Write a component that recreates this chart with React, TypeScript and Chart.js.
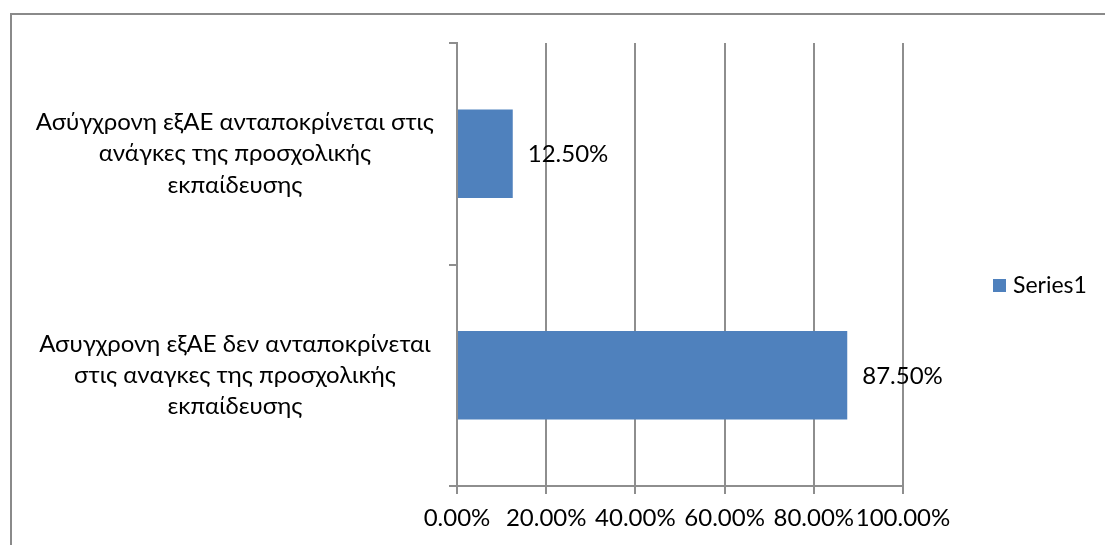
import React, { useEffect, useRef } from "react";
import { Chart, registerables } from "chart.js";

Chart.register(...registerables);

const categories: string[][] = [
  ["Ασύγχρονη εξΑΕ ανταποκρίνεται στις", "ανάγκες της προσχολικής", "εκπαίδευσης"],
  ["Ασυγχρονη εξΑΕ δεν ανταποκρίνεται", "στις αναγκες της προσχολικής", "εκπαίδευσης"],
];
const seriesName = "Series1";
const seriesValues: number[] = [0.125, 0.875];
const xTicks = { min: 0, max: 1, step: 0.2 };

const FONT = "Lato, 'Open Sans', sans-serif";
const FS = 24;
const BAR_COLOR = "#4f81bd";
const LINE_COLOR = "#8e8e8e";

const fmt = (v: number) => (v * 100).toFixed(2) + "%";

const framePlugin = {
  id: "frame",
  beforeDraw(chart: any) {
    const ctx = chart.ctx;
    ctx.save();
    ctx.fillStyle = "#ffffff";
    ctx.fillRect(0, 0, chart.width, chart.height);
    ctx.strokeStyle = "#8a8a8a";
    ctx.lineWidth = 2;
    ctx.strokeRect(11, 14, chart.width + 20, chart.height + 20);
    ctx.restore();
  },
};

const labelsPlugin = {
  id: "barLabels",
  afterDatasetsDraw(chart: any) {
    const ctx = chart.ctx;
    ctx.save();
    ctx.font = `${FS}px ${FONT}`;
    ctx.fillStyle = "#000";
    ctx.textAlign = "left";
    ctx.textBaseline = "middle";
    chart.data.datasets.forEach((ds: any, di: number) => {
      const meta = chart.getDatasetMeta(di);
      meta.data.forEach((bar: any, i: number) => {
        ctx.fillText(fmt(ds.data[i]), bar.x + 15, bar.y + 1);
      });
    });
    ctx.restore();
  },
};

const legendPlugin = {
  id: "sideLegend",
  afterDraw(chart: any) {
    const ctx = chart.ctx;
    const ds = chart.data.datasets[0];
    ctx.save();
    ctx.fillStyle = ds.backgroundColor;
    ctx.fillRect(993, 279, 13, 13);
    ctx.font = `23px ${FONT}`;
    ctx.fillStyle = "#000";
    ctx.textAlign = "left";
    ctx.textBaseline = "middle";
    ctx.fillText(ds.label, 1013, 286);
    ctx.restore();
  },
};

export default function App() {
  const ref = useRef<HTMLCanvasElement | null>(null);
  useEffect(() => {
    document.body.style.margin = "0";
    if (!ref.current) return;
    const chart = new Chart(ref.current, {
      type: "bar",
      data: {
        labels: categories as any,
        datasets: [
          {
            label: seriesName,
            data: seriesValues,
            backgroundColor: BAR_COLOR,
            borderWidth: 0,
            barPercentage: 0.4,
            categoryPercentage: 1,
          },
        ],
      },
      options: {
        indexAxis: "y",
        animation: false,
        responsive: false,
        layout: { padding: { left: 0, top: 43, right: 202, bottom: 0 } },
        plugins: {
          legend: { display: false },
          tooltip: { enabled: false },
        },
        scales: {
          x: {
            min: xTicks.min,
            max: xTicks.max,
            afterFit: (s: any) => {
              s.height = 59;
              s.paddingLeft = 0;
              s.paddingRight = 0;
            },
            ticks: {
              stepSize: xTicks.step,
              callback: (v: any) => fmt(Number(v)),
              font: { family: FONT, size: FS },
              color: "#000",
              padding: 10,
              maxRotation: 0,
              minRotation: 0,
              autoSkip: false,
            },
            grid: {
              color: LINE_COLOR,
              lineWidth: 2,
              tickLength: 8,
              drawTicks: true,
            },
            border: { color: LINE_COLOR, width: 2 },
          },
          y: {
            afterFit: (s: any) => {
              s.width = 457;
              s.paddingTop = 0;
              s.paddingBottom = 0;
            },
            ticks: {
              font: { family: FONT, size: FS, lineHeight: 1.31 },
              color: "#000",
              crossAlign: "center",
              padding: 15,
              autoSkip: false,
            },
            grid: {
              color: LINE_COLOR,
              lineWidth: 2,
              drawOnChartArea: false,
              drawTicks: true,
              tickLength: 8,
              offset: true,
            },
            border: { color: LINE_COLOR, width: 2 },
          },
        },
      },
      plugins: [framePlugin, labelsPlugin, legendPlugin],
    });
    return () => chart.destroy();
  }, []);
  return <canvas ref={ref} width={1105} height={545} style={{ display: "block" }} />;
}
